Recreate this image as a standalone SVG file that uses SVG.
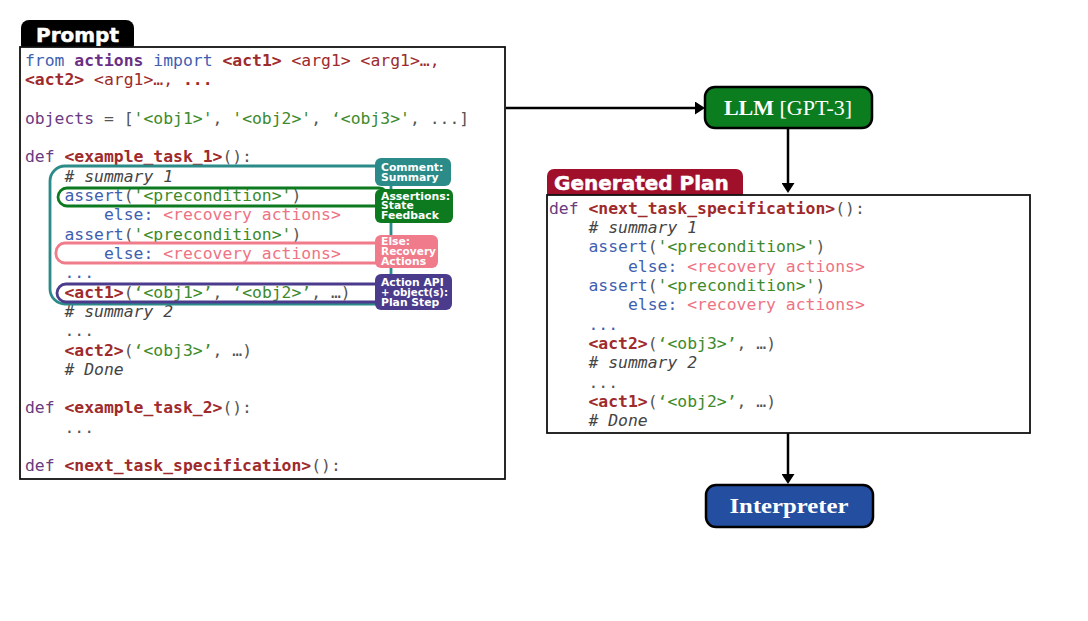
<svg xmlns="http://www.w3.org/2000/svg" width="1088" height="621" viewBox="0 0 1088 621">
<style>
.code{font-family:"DejaVu Sans Mono","Liberation Mono",monospace;font-size:16.4px;fill:#555;white-space:pre}
.kw{fill:#3f5fb0}
.mod{fill:#6a2f85;font-weight:bold}
.pur{fill:#6a3a80}
.act{fill:#9e2a2c;font-weight:bold}
.arg{fill:#9e2a2c}
.str{fill:#3d8a2c}
.rec{fill:#ee7383}
.cm{fill:#444;font-style:italic}
.tag{font-family:"DejaVu Sans",sans-serif;font-weight:bold;font-size:10.8px;fill:#fff}
.title{font-family:"DejaVu Sans",sans-serif;font-weight:bold;font-size:20px;fill:#fff;stroke:#fff;stroke-width:0.5}
.node{font-family:"Liberation Serif",serif;font-size:22px;fill:#fff}
.box{fill:#fff;stroke:#111;stroke-width:1.8}
.edge{stroke:#000;stroke-width:2.5;fill:none}
.outl{fill:none;stroke-width:2.8}
</style>
<defs>
<marker id="ah" viewBox="0 0 10 13" refX="5" refY="6.5" markerWidth="10" markerHeight="13" markerUnits="userSpaceOnUse" orient="auto">
<path d="M0,0 L10,6.5 L0,13 z" fill="#000"/>
</marker>
</defs>
<rect width="1088" height="621" fill="#fff"/>

<g id="prompt">
<rect x="21" y="20" width="113" height="33" rx="8" fill="#000"/>
<text class="title" x="36" y="42">Prompt</text>
<rect class="box" x="20" y="47" width="485" height="432"/>
<g xml:space="preserve">
<text class="code" x="25" y="65.5"><tspan class="kw">from</tspan> <tspan class="mod">actions</tspan> <tspan class="kw">import</tspan> <tspan class="act">&lt;act1&gt;</tspan><tspan class="arg"> &lt;arg1&gt; &lt;arg1&gt;…,</tspan></text>
<text class="code" x="25" y="84.8"><tspan class="act">&lt;act2&gt;</tspan><tspan class="arg"> &lt;arg1&gt;…, </tspan><tspan class="act">...</tspan></text>
<text class="code" x="25" y="123.5"><tspan class="pur">objects</tspan> = [<tspan class="str">'&lt;obj1&gt;'</tspan>, <tspan class="str">'&lt;obj2&gt;'</tspan>, <tspan class="str">‘&lt;obj3&gt;'</tspan>, ...]</text>
<text class="code" x="25" y="162.2"><tspan class="pur">def</tspan> <tspan class="act">&lt;example_task_1&gt;</tspan>():</text>
<text class="code" x="25" y="181.5"><tspan class="cm">    # summary 1</tspan></text>
<text class="code" x="25" y="200.8">    <tspan class="kw">assert</tspan>(<tspan class="str">'&lt;precondition&gt;'</tspan>)</text>
<text class="code" x="25" y="220.1">        <tspan class="kw">else:</tspan> <tspan class="rec">&lt;recovery actions&gt;</tspan></text>
<text class="code" x="25" y="239.5">    <tspan class="kw">assert</tspan>(<tspan class="str">'&lt;precondition&gt;'</tspan>)</text>
<text class="code" x="25" y="258.8">        <tspan class="kw">else:</tspan> <tspan class="rec">&lt;recovery actions&gt;</tspan></text>
<text class="code" x="25" y="278.1">    <tspan class="kw">...</tspan></text>
<text class="code" x="25" y="297.5">    <tspan class="act">&lt;act1&gt;</tspan>(<tspan class="str">‘&lt;obj1&gt;’</tspan>, <tspan class="str">‘&lt;obj2&gt;’</tspan>, …)</text>
<text class="code" x="25" y="316.8"><tspan class="cm">    # summary 2</tspan></text>
<text class="code" x="25" y="336.1">    ...</text>
<text class="code" x="25" y="355.5">    <tspan class="act">&lt;act2&gt;</tspan>(<tspan class="str">‘&lt;obj3&gt;’</tspan>, …)</text>
<text class="code" x="25" y="374.8"><tspan class="cm">    # Done</tspan></text>
<text class="code" x="25" y="413.4"><tspan class="pur">def</tspan> <tspan class="act">&lt;example_task_2&gt;</tspan>():</text>
<text class="code" x="25" y="432.8">    ...</text>
<text class="code" x="25" y="471.4"><tspan class="pur">def</tspan> <tspan class="act">&lt;next_task_specification&gt;</tspan>():</text>
</g>
</g>

<g id="annotations">
<rect class="outl" x="50" y="166" width="341" height="138" rx="15" stroke="#2b8b88"/>
<rect class="outl" x="58" y="188" width="330" height="18" rx="9" stroke="#0d7a20"/>
<rect class="outl" x="56" y="243" width="330" height="20" rx="9" stroke="#f07b8a"/>
<rect class="outl" x="57" y="284" width="330" height="18" rx="9" stroke="#4b3b8c"/>
</g>

<g id="tag-comment">
<rect x="375" y="158" width="76" height="28" rx="6" fill="#2b8b88"/>
<text class="tag" x="381" y="170.5">Comment:</text>
<text class="tag" x="381" y="180.5">Summary</text>
</g>
<g id="tag-assert">
<rect x="375" y="189" width="78" height="34" rx="6" fill="#0d7a20"/>
<text class="tag" x="381" y="199.5" textLength="69" lengthAdjust="spacingAndGlyphs">Assertions:</text>
<text class="tag" x="381" y="209">State</text>
<text class="tag" x="381" y="218.5">Feedback</text>
</g>
<g id="tag-else">
<rect x="375" y="235" width="63" height="33" rx="6" fill="#f07b8a"/>
<text class="tag" x="381" y="245">Else:</text>
<text class="tag" x="381" y="255" textLength="55" lengthAdjust="spacingAndGlyphs">Recovery</text>
<text class="tag" x="381" y="265">Actions</text>
</g>
<g id="tag-action">
<rect x="375" y="274" width="77" height="36" rx="6" fill="#4b3b8c"/>
<text class="tag" x="381" y="286">Action API</text>
<text class="tag" x="381" y="296" textLength="67" lengthAdjust="spacingAndGlyphs">+ object(s):</text>
<text class="tag" x="381" y="306">Plan Step</text>
</g>

<g id="connectors">
<line class="edge" x1="506" y1="108" x2="700" y2="108" marker-end="url(#ah)"/>
<line class="edge" x1="788" y1="128" x2="788" y2="188" marker-end="url(#ah)"/>
<line class="edge" x1="788" y1="433" x2="788" y2="479" marker-end="url(#ah)"/>
</g>

<g id="llm">
<rect x="705" y="87" width="167" height="41" rx="10" fill="#0b7d1f" stroke="#000" stroke-width="2.5"/>
<text class="node" x="788" y="115" text-anchor="middle"><tspan font-weight="bold">LLM</tspan> [GPT-3]</text>
</g>

<g id="generated-plan">
<rect x="547" y="169" width="196" height="32" rx="7" fill="#a0102a"/>
<text class="title" x="554" y="190">Generated Plan</text>
<rect class="box" x="547" y="195" width="483" height="238"/>
<g xml:space="preserve">
<text class="code" x="549" y="213.5"><tspan class="pur">def</tspan> <tspan class="act">&lt;next_task_specification&gt;</tspan>():</text>
<text class="code" x="549" y="232.8"><tspan class="cm">    # summary 1</tspan></text>
<text class="code" x="549" y="252.2">    <tspan class="kw">assert</tspan>(<tspan class="str">'&lt;precondition&gt;'</tspan>)</text>
<text class="code" x="549" y="271.5">        <tspan class="kw">else:</tspan> <tspan class="rec">&lt;recovery actions&gt;</tspan></text>
<text class="code" x="549" y="290.8">    <tspan class="kw">assert</tspan>(<tspan class="str">'&lt;precondition&gt;'</tspan>)</text>
<text class="code" x="549" y="310.2">        <tspan class="kw">else:</tspan> <tspan class="rec">&lt;recovery actions&gt;</tspan></text>
<text class="code" x="549" y="329.5">    <tspan class="kw">...</tspan></text>
<text class="code" x="549" y="348.8">    <tspan class="act">&lt;act2&gt;</tspan>(<tspan class="str">‘&lt;obj3&gt;’</tspan>, …)</text>
<text class="code" x="549" y="368.1"><tspan class="cm">    # summary 2</tspan></text>
<text class="code" x="549" y="387.5">    ...</text>
<text class="code" x="549" y="406.8">    <tspan class="act">&lt;act1&gt;</tspan>(<tspan class="str">‘&lt;obj2&gt;’</tspan>, …)</text>
<text class="code" x="549" y="426.1"><tspan class="cm">    # Done</tspan></text>
</g>
</g>

<g id="interpreter">
<rect x="706" y="485" width="167" height="42" rx="10" fill="#244ea0" stroke="#000" stroke-width="2.5"/>
<text class="node" x="789" y="513" text-anchor="middle" font-weight="bold" textLength="119" lengthAdjust="spacingAndGlyphs">Interpreter</text>
</g>
</svg>
